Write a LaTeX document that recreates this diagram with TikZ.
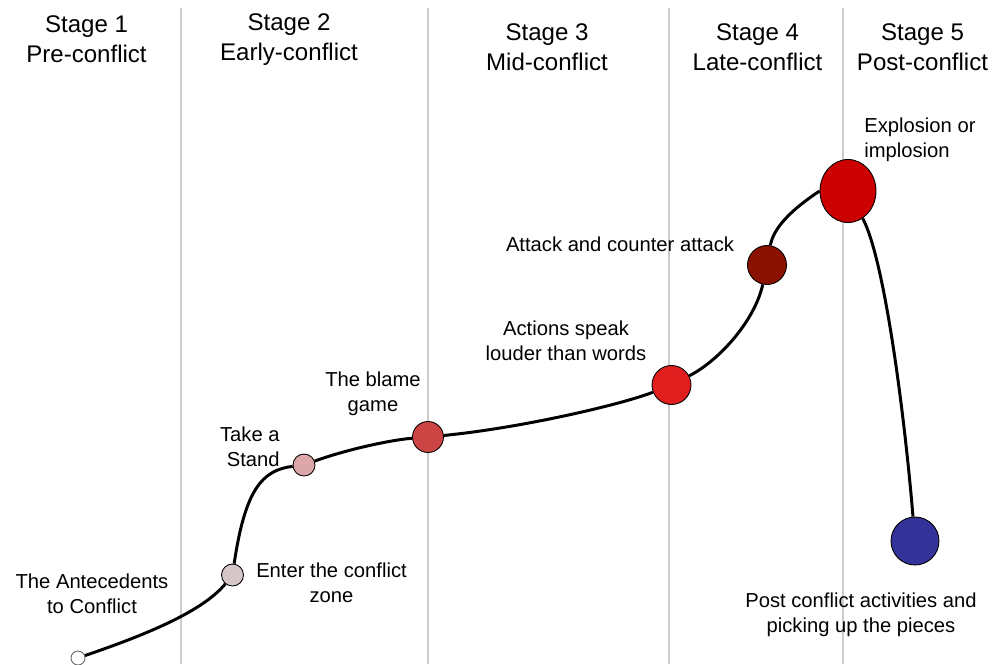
\documentclass[tikz,border=0pt]{standalone}
\usepackage{fontspec}
\setmainfont{Liberation Sans}
\usetikzlibrary{shapes.geometric}
\definecolor{enterfill}{HTML}{D6C6C8}
\definecolor{standfill}{HTML}{DDA6A8}
\definecolor{blamefill}{HTML}{CC4444}
\definecolor{actionfill}{HTML}{E01E1E}
\definecolor{attackfill}{HTML}{8B1100}
\definecolor{explodefill}{HTML}{CC0000}
\definecolor{postfill}{HTML}{333399}
\begin{document}
\begin{tikzpicture}[x=0.02cm, y=0.02cm,
    stagetext/.style={align=center, inner sep=0pt, font=\fontsize{13.7}{17}\selectfont},
    labeltext/.style={align=center, inner sep=0pt, font=\fontsize{11.5}{14.2}\selectfont},
    dot/.style={circle, draw=black, line width=0.5pt, inner sep=0pt},
    path line/.style={line width=1.7pt}]
  \useasboundingbox (0,0) rectangle (994,664);
  % stage dividers
  \foreach \xpos in {181, 428, 669, 843}
    \draw[black!20, line width=0.6pt] (\xpos,656) -- (\xpos,0);

  \node [stagetext] (stage1) at (86.5,624.5) {Stage 1\\Pre-conflict};
  \node [stagetext] (stage2) at (289,624.5)  {Stage 2\\Early-conflict};
  \node [stagetext] (stage3) at (547,616.5)  {Stage 3\\Mid-conflict};
  \node [stagetext] (stage4) at (757.5,616.5) {Stage 4\\Late-conflict};
  \node [stagetext] (stage5) at (922.5,616.5) {Stage 5\\Post-conflict};

  % the points on the curve
  \node [dot, draw=black!60, fill=white, minimum size=0.28cm] (ante) at (78,6) {};
  \node [dot, fill=enterfill,   minimum size=0.44cm] (enter)   at (232.5,89) {};
  \node [dot, fill=standfill,   minimum size=0.44cm] (stand)   at (304,199) {};
  \node [dot, fill=blamefill,   minimum size=0.62cm] (blame)   at (428,227) {};
  \node [dot, fill=actionfill,  minimum size=0.78cm] (actions) at (671.5,279) {};
  \node [dot, fill=attackfill,  minimum size=0.78cm] (attack)  at (767,399) {};
  \node [ellipse, draw=black, line width=0.5pt, inner sep=0pt, fill=explodefill,
         minimum width=1.12cm, minimum height=1.26cm] (explode) at (848,473) {};
  \node [dot, fill=postfill,    minimum size=0.96cm] (post)    at (915,123) {};

  \draw[path line] (ante) .. controls (130,24) and (200,49) .. (enter);
  \draw[path line] (enter) .. controls (245,174) and (262,194) .. (stand);
  \draw[path line] (stand) .. controls (345,214) and (390,224) .. (blame);
  \draw[path line] (blame) .. controls (520,236) and (620,259) .. (actions);
  \draw[path line] (actions) .. controls (720,304) and (755,344) .. (attack);
  \draw[path line] (attack) .. controls (774,440) and (800,460) .. (explode.west);
  \draw[path line] (explode) .. controls (885,404) and (905,244) .. (post);

  \node [labeltext] (anteText)    at (92,70)     {The Antecedents\\to Conflict};
  \node [labeltext] (enterText)   at (331.5,81.5) {Enter the conflict\\zone};
  \node [labeltext, align=right, anchor=east] (standText) at (280,217) {Take a\\Stand};
  \node [labeltext] (blameText)   at (373,270)   {The blame\\game};
  \node [labeltext] (actionsText) at (566,323)   {Actions speak\\louder than words};
  \node [labeltext] (attackText)  at (620,419.5) {Attack and counter attack};
  \node [labeltext, align=left, anchor=west] (explodeText) at (864,524.5) {Explosion or\\implosion};
  \node [labeltext] (postText)    at (861,49)    {Post conflict activities and\\picking up the pieces};
\end{tikzpicture}
\end{document}
